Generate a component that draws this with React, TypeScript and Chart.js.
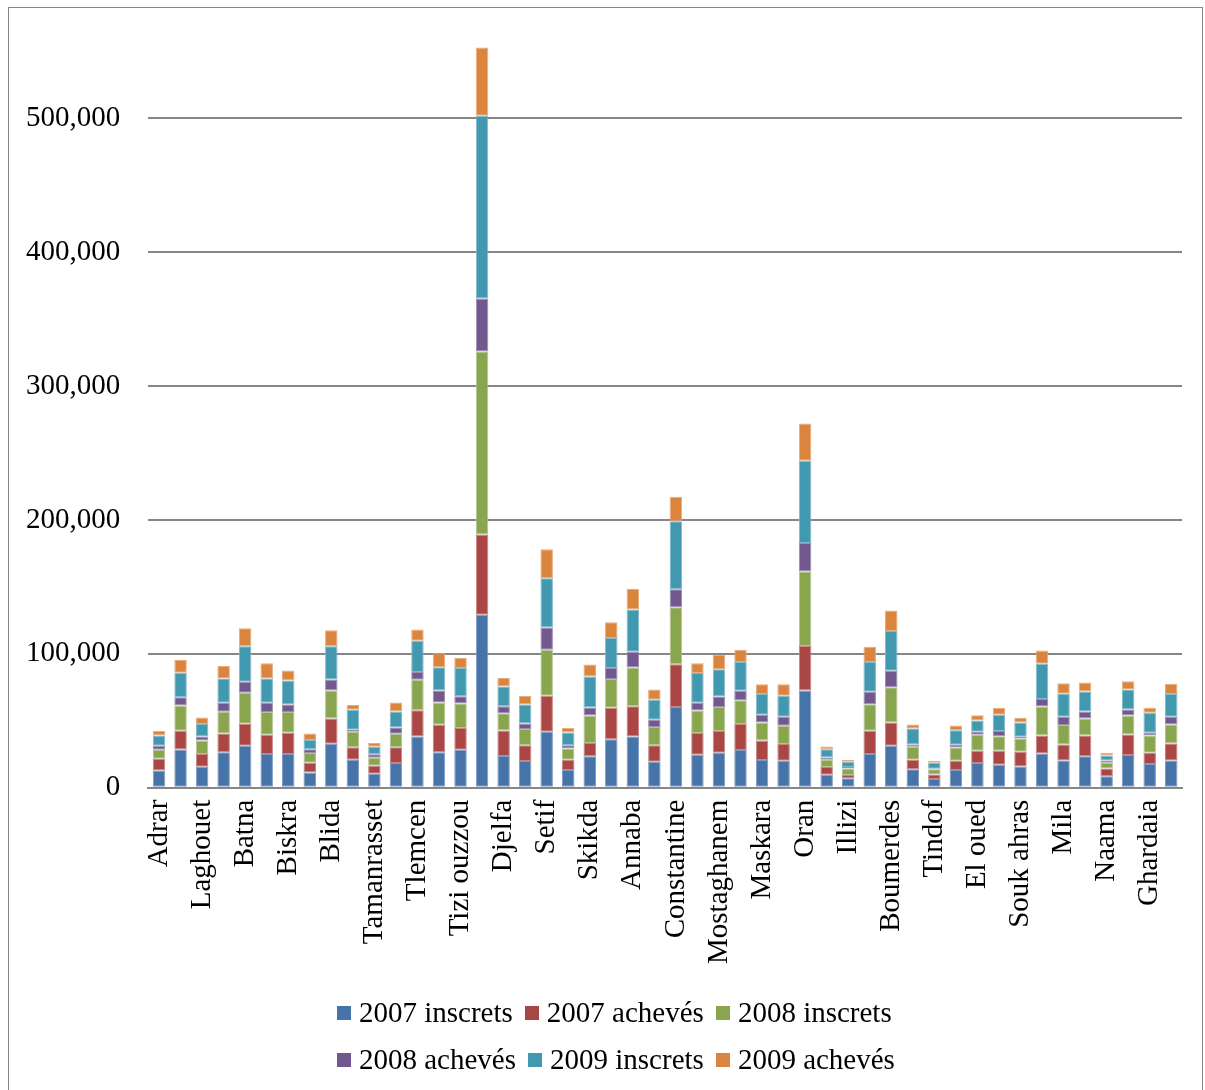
import React, { useEffect, useRef } from "react";
import { Chart, registerables } from "chart.js";

Chart.register(...registerables);

const FONT = "'Liberation Serif', 'Times New Roman', serif";

const categories = [
  "Adrar", "Chlef", "Laghouet", "Oum el bouaghi", "Batna", "Bejaia", "Biskra", "Bechar",
  "Blida", "Bouira", "Tamanrasset", "Tebessa", "Tlemcen", "Tiaret", "Tizi ouzzou", "Alger",
  "Djelfa", "Jijel", "Setif", "Saida", "Skikda", "Sidi bel abbes", "Annaba", "Guelma",
  "Constantine", "Medea", "Mostaghanem", "M'sila", "Maskara", "Ouargla", "Oran", "El bayadh",
  "Illizi", "Bordj bou arreridj", "Boumerdes", "El tarf", "Tindof", "Tissemsilt", "El oued", "Khenchela",
  "Souk ahras", "Tipaza", "Mila", "Ain defla", "Naama", "Ain temouchent", "Ghardaia", "Relizane",
];

const inscrets2007 = [
  12900, 28600, 15700, 26400, 31300, 25100, 25100, 11400,
  32800, 20900, 10400, 18400, 38300, 26400, 28400, 129100,
  23600, 19900, 41800, 13200, 23400, 36100, 38300, 19400,
  60200, 24600, 26100, 28100, 20600, 20100, 72600, 9700,
  7000, 25100, 31300, 13700, 6500, 13200, 18400, 17200,
  15900, 25600, 20400, 23400, 8500, 24400, 17700, 20400,
];
const acheves2007 = [
  8700, 13900, 9400, 14100, 16500, 14400, 15900, 7300,
  18900, 9400, 6000, 11900, 19600, 20600, 16100, 60000,
  19200, 11900, 26800, 7700, 9900, 23600, 22600, 12400,
  32100, 16200, 16200, 19400, 14700, 12500, 33300, 5700,
  2500, 17400, 17400, 7200, 3400, 6900, 9200, 10400,
  11000, 13400, 11900, 15600, 5900, 15400, 8400, 12700,
];
const inscrets2008 = [
  6800, 18900, 10200, 16200, 23100, 17000, 15500, 7200,
  20900, 11500, 6000, 10000, 22700, 16700, 18400, 136800,
  12900, 12000, 34400, 8400, 20700, 21400, 28900, 13500,
  42500, 16900, 17900, 17900, 13400, 13700, 55600, 5500,
  4900, 19900, 26400, 9700, 3800, 10000, 11900, 10900,
  9900, 21700, 14500, 12700, 4300, 14200, 12900, 14200,
];
const acheves2008 = [
  2900, 6200, 3000, 6700, 8200, 6900, 5700, 2900,
  8200, 1500, 2500, 4700, 5900, 8900, 5500, 39600,
  5200, 4200, 16600, 2500, 5900, 8400, 11700, 5400,
  13400, 5700, 7900, 7000, 5800, 6700, 21200, 1700,
  1000, 9200, 12200, 1700, 500, 2000, 2300, 3800,
  1300, 5500, 6200, 5300, 1700, 4400, 2000, 5700,
];
const inscrets2009 = [
  7700, 18200, 9200, 18200, 26600, 18200, 17900, 6800,
  24900, 14900, 5700, 12000, 23200, 17400, 21100, 136400,
  14700, 14200, 36800, 9500, 23200, 22400, 31600, 15000,
  50800, 22200, 20400, 21400, 15400, 15600, 61500, 6200,
  4000, 22200, 29800, 12000, 4500, 10900, 8400, 12200,
  10600, 26300, 17100, 14900, 3700, 15000, 15000, 16900,
];
const acheves2009 = [
  3300, 9500, 5000, 9400, 13400, 11400, 7400, 4900,
  11900, 3500, 2700, 6700, 8400, 10500, 7500, 50900,
  6500, 6400, 21700, 3500, 8900, 11700, 15400, 7700,
  18400, 7400, 10700, 9200, 7400, 8700, 27800, 2000,
  1200, 11400, 15200, 3000, 1400, 3500, 4000, 5200,
  3300, 10000, 8000, 6700, 2000, 6200, 3700, 7700,
];

const seriesNames = [
  "2007 inscrets", "2007 achevés", "2008 inscrets",
  "2008 achevés", "2009 inscrets", "2009 achevés",
];
const seriesValues = [inscrets2007, acheves2007, inscrets2008, acheves2008, inscrets2009, acheves2009];
const seriesColors = ["#4673A8", "#AA4643", "#89A54E", "#71588F", "#4198AF", "#DB843D"];
const seriesEdges = ["#7E9CC3", "#C78583", "#B2C592", "#9E8CB3", "#80B9C9", "#E8AB7A"];

const yTickValues = [0, 100000, 200000, 300000, 400000, 500000];
const yTickLabels = ["0", "100,000", "200,000", "300,000", "400,000", "500,000"];

export default function App() {
  const ref = useRef<HTMLCanvasElement>(null);

  useEffect(() => {
    if (!ref.current) return;
    const chart = new Chart(ref.current, {
      type: "bar",
      data: {
        labels: categories,
        datasets: seriesNames.map((name, i) => ({
          label: name,
          data: seriesValues[i],
          backgroundColor: seriesColors[i],
          borderColor: seriesEdges[i],
          borderWidth: 1,
          borderSkipped: false,
          barPercentage: 0.58,
          categoryPercentage: 1,
        })),
      },
      options: {
        animation: false,
        responsive: false,
        layout: { padding: { left: -5, right: 19, top: 35, bottom: 16 } },
        plugins: { legend: { display: false }, tooltip: { enabled: false } },
        scales: {
          x: {
            stacked: true,
            grid: { display: false, drawTicks: false },
            border: { display: true, color: "#868686", width: 2 },
            ticks: {
              autoSkip: false,
              maxRotation: 90,
              minRotation: 90,
              padding: 12,
              color: "#000",
              font: { family: FONT, size: 29, lineHeight: 0.6 },
              callback: (_v: any, i: number) => (i % 2 === 0 ? categories[i] : ""),
            },
          },
          y: {
            stacked: true,
            min: 0,
            max: 557000,
            afterBuildTicks: (scale: any) => {
              scale.ticks = yTickValues.map((v) => ({ value: v }));
            },
            grid: { color: "#868686", lineWidth: 2, drawTicks: false },
            border: { display: false },
            ticks: {
              padding: 28,
              color: "#000",
              font: { family: FONT, size: 29, lineHeight: 0.4 },
              callback: (v: any) => {
                const idx = yTickValues.indexOf(Number(v));
                return idx >= 0 ? yTickLabels[idx] : "";
              },
            },
          },
        },
      },
    });
    return () => chart.destroy();
  }, []);

  return (
    <div>
      <div
        style={{
          position: "absolute",
          left: 8,
          top: 7,
          width: 1195,
          height: 1083,
          borderTop: "1px solid #868686",
          borderLeft: "1px solid #868686",
          borderRight: "1px solid #868686",
          boxSizing: "border-box",
          background: "#fff",
        }}
      />
      <canvas
        ref={ref}
        width={1198}
        height={985}
        style={{ position: "absolute", left: 3, top: 7, width: 1198, height: 985 }}
      />
      <div
        style={{
          position: "absolute",
          left: 337,
          top: 989,
          width: 580,
          display: "flex",
          flexWrap: "wrap",
          fontFamily: FONT,
          fontSize: 29,
          color: "#000",
        }}
      >
        {seriesNames.map((name, i) => (
          <div
            key={name}
            style={{ display: "flex", alignItems: "center", height: 47, marginRight: 12 }}
          >
            <span
              style={{
                display: "inline-block",
                width: 14,
                height: 14,
                background: seriesColors[i],
                marginRight: 8,
              }}
            />
            <span style={{ whiteSpace: "nowrap" }}>{name}</span>
          </div>
        ))}
      </div>
    </div>
  );
}
